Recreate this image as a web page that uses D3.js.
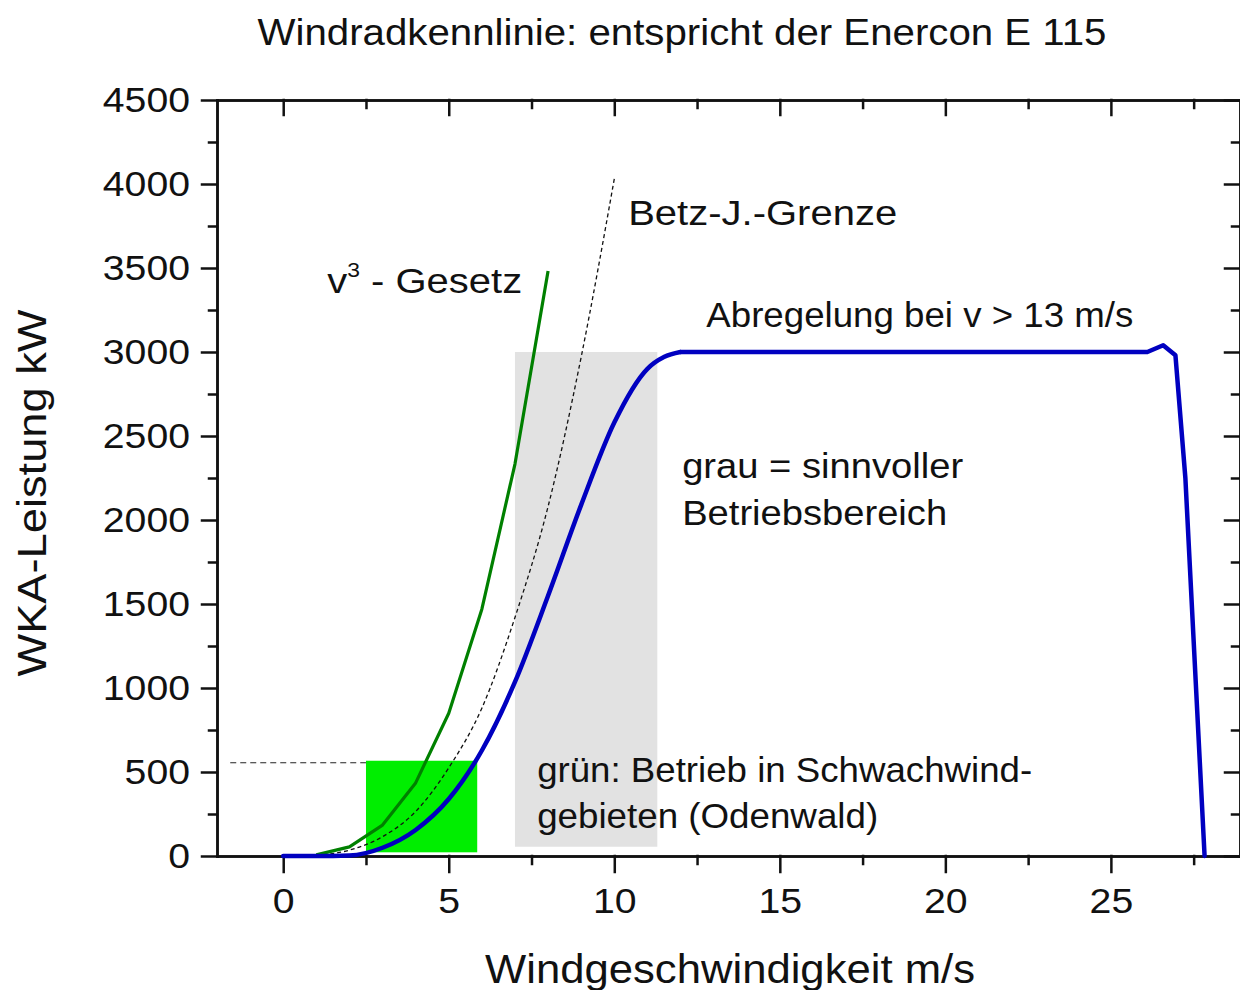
<!DOCTYPE html>
<html><head><meta charset="utf-8">
<script src="https://cdn.jsdelivr.net/npm/d3@7"></script>
<style>
html,body{margin:0;padding:0;background:#fff;}
svg text{font-family:"Liberation Sans",Arial,Helvetica,sans-serif;fill:#111;}
</style></head>
<body>
<svg id="chart" width="1240" height="990"></svg>
<script>
// ---- data ----
const enerconSpeed = [0,1,2,3,4,5,6,7,8,9,10,11,11.5,12,26.1,26.58,26.95,27.25,27.83];
const enerconPower = [0,0,3,49,155,339,628,1036,1549,2090,2580,2900,2970,3000,3000,3040,2980,2250,0];
const cubeSpeed = [1,2,3,4,5,6,7,8];
const cubePower = [7,54,184,435,850,1469,2333,3482];
const betzSpeed = [1,2,3,4,5,6,7,8,9,10];
const betzPower = [4,35,115,265,525,880,1420,2080,2970,4030];
const lowWindSpeed = [2.5, 5.86];
const lowWindPower = [22, 567];
const operatingSpeed = [7, 11.3];
const operatingPower = [55, 3000];
const refLineSpeed = [-1.6, 2.5];
const refLinePower = [555, 555];
const xTicks = [0,5,10,15,20,25];
const xMinor = [2.5,7.5,12.5,17.5,22.5,27.5];
const yTicks = [0,500,1000,1500,2000,2500,3000,3500,4000,4500];
const yMinor = [250,750,1250,1750,2250,2750,3250,3750,4250];

(function(){
const svg = d3.select("#chart");
const x = d3.scaleLinear([-2, 28.9], [217, 1240]);
const y = d3.scaleLinear([0, 4500], [856, 100]);

function fit(sel, w){ sel.attr("textLength", w).attr("lengthAdjust","spacingAndGlyphs"); }
function stretch(sel, f){ sel.each(function(){ const w=this.getComputedTextLength(); d3.select(this).attr("textLength", w*f).attr("lengthAdjust","spacingAndGlyphs"); }); }

// background regions
svg.append("rect")
  .attr("x", x(operatingSpeed[0])).attr("y", y(operatingPower[1]))
  .attr("width", x(operatingSpeed[1]) - x(operatingSpeed[0]))
  .attr("height", y(operatingPower[0]) - y(operatingPower[1]))
  .attr("fill", "#e2e2e2");
svg.append("rect")
  .attr("x", x(lowWindSpeed[0])).attr("y", y(lowWindPower[1]))
  .attr("width", x(lowWindSpeed[1]) - x(lowWindSpeed[0]))
  .attr("height", y(lowWindPower[0]) - y(lowWindPower[1]))
  .attr("fill", "#00ee00");

// axes
const g = svg.append("g").attr("stroke-linecap","square");
function axisStyle(sel){
  sel.select(".domain").attr("stroke","#111").attr("stroke-width",2.5);
  sel.selectAll(".tick line").attr("stroke","#111").attr("stroke-width",2.5);
}
const axB = g.append("g").attr("transform",`translate(0,${y(0)})`)
  .call(d3.axisBottom(x).tickValues(xTicks).tickSize(16).tickSizeOuter(0).tickPadding(16).tickFormat(d3.format("d")));
axB.call(axisStyle);
axB.selectAll("text").attr("font-size",35).attr("fill","#111");
g.append("g").attr("transform",`translate(0,${y(0)})`)
  .call(d3.axisBottom(x).tickValues(xMinor).tickSize(8).tickSizeOuter(0).tickFormat(""))
  .call(axisStyle);
g.append("g").attr("transform",`translate(0,${y(4500)})`)
  .call(d3.axisTop(x).tickValues(xTicks).tickSize(-15).tickSizeOuter(0).tickFormat(""))
  .call(axisStyle);
g.append("g").attr("transform",`translate(0,${y(4500)})`)
  .call(d3.axisTop(x).tickValues(xMinor).tickSize(-8).tickSizeOuter(0).tickFormat(""))
  .call(axisStyle);
const axL = g.append("g").attr("transform",`translate(${x(-2)},0)`)
  .call(d3.axisLeft(y).tickValues(yTicks).tickSize(15).tickSizeOuter(0).tickPadding(12).tickFormat(d3.format("d")));
axL.call(axisStyle);
axL.selectAll("text").attr("font-size",35).attr("fill","#111");
g.append("g").attr("transform",`translate(${x(-2)},0)`)
  .call(d3.axisLeft(y).tickValues(yMinor).tickSize(8).tickSizeOuter(0).tickFormat(""))
  .call(axisStyle);
g.append("g").attr("transform",`translate(${x(28.9)},0)`)
  .call(d3.axisRight(y).tickValues(yTicks).tickSize(-15).tickSizeOuter(0).tickFormat(""))
  .call(axisStyle);
g.append("g").attr("transform",`translate(${x(28.9)},0)`)
  .call(d3.axisRight(y).tickValues(yMinor).tickSize(-8).tickSizeOuter(0).tickFormat(""))
  .call(axisStyle);
svg.selectAll(".tick text").attr("font-family",'"Liberation Sans",Arial,sans-serif');
stretch(axB.selectAll(".tick text"), 1.12);
stretch(axL.selectAll(".tick text"), 1.12);

// lines
const plot = svg.append("g");
plot.append("path")
  .datum(refLineSpeed.map((v,i)=>[v, refLinePower[i]]))
  .attr("fill","none").attr("stroke","#222").attr("stroke-width",1)
  .attr("stroke-dasharray","6,4")
  .attr("d", d3.line().x(d=>x(d[0])).y(d=>y(d[1])));
plot.append("path")
  .datum(betzSpeed.map((v,i)=>[v, betzPower[i]]))
  .attr("fill","none").attr("stroke","#111").attr("stroke-width",1.3)
  .attr("stroke-dasharray","4,3")
  .attr("d", d3.line().x(d=>x(d[0])).y(d=>y(d[1])).curve(d3.curveMonotoneX));
plot.append("path")
  .datum(cubeSpeed.map((v,i)=>[v, cubePower[i]]))
  .attr("fill","none").attr("stroke","#008000").attr("stroke-width",3.2)
  .attr("stroke-linejoin","round")
  .attr("d", d3.line().x(d=>x(d[0])).y(d=>y(d[1])));
const enercon = enerconSpeed.map((v,i)=>[v, enerconPower[i]]);
const rising = enercon.filter(d=>d[0] <= 12);
const plateau = enercon.filter(d=>d[0] >= 12);
plot.append("path")
  .datum(rising)
  .attr("fill","none").attr("stroke","#0000c0").attr("stroke-width",4.5)
  .attr("stroke-linejoin","round").attr("stroke-linecap","round")
  .attr("d", d3.line().x(d=>x(d[0])).y(d=>y(d[1])).curve(d3.curveMonotoneX));
plot.append("path")
  .datum(plateau)
  .attr("fill","none").attr("stroke","#0000c0").attr("stroke-width",4.5)
  .attr("stroke-linejoin","round").attr("stroke-linecap","round")
  .attr("d", d3.line().x(d=>x(d[0])).y(d=>y(d[1])));

// texts
const title = svg.append("text").attr("x",682).attr("y",45).attr("text-anchor","middle")
  .attr("font-size",36).text("Windradkennlinie: entspricht der Enercon E 115");
fit(title, 849);
const xl = svg.append("text").attr("x",730).attr("y",983).attr("text-anchor","middle")
  .attr("font-size",40).text("Windgeschwindigkeit m/s");
fit(xl, 490);
const yl = svg.append("text").attr("transform","translate(46,493) rotate(-90)").attr("text-anchor","middle")
  .attr("font-size",40).text("WKA-Leistung kW");
fit(yl, 367);

const ann = svg.append("g").attr("font-size",35);
const v3 = ann.append("text").attr("x",x(1.33)).attr("y",y(3351));
v3.append("tspan").text("v");
v3.append("tspan").attr("font-size",20).attr("dy",-16).text("3");
v3.append("tspan").attr("dy",16).text(" - Gesetz");
fit(v3, 195);
fit(ann.append("text").attr("x",x(10.42)).attr("y",y(3756)).text("Betz-J.-Grenze"), 269);
fit(ann.append("text").attr("x",x(12.78)).attr("y",y(3149)).text("Abregelung bei v > 13 m/s"), 427);
fit(ann.append("text").attr("x",x(12.05)).attr("y",y(2250)).text("grau = sinnvoller"), 281);
fit(ann.append("text").attr("x",x(12.05)).attr("y",y(1970)).text("Betriebsbereich"), 265);
fit(ann.append("text").attr("x",x(7.67)).attr("y",y(440)).text("grün: Betrieb in Schwachwind-"), 495);
fit(ann.append("text").attr("x",x(7.67)).attr("y",y(167)).text("gebieten (Odenwald)"), 341);
})();
</script>
</body></html>
